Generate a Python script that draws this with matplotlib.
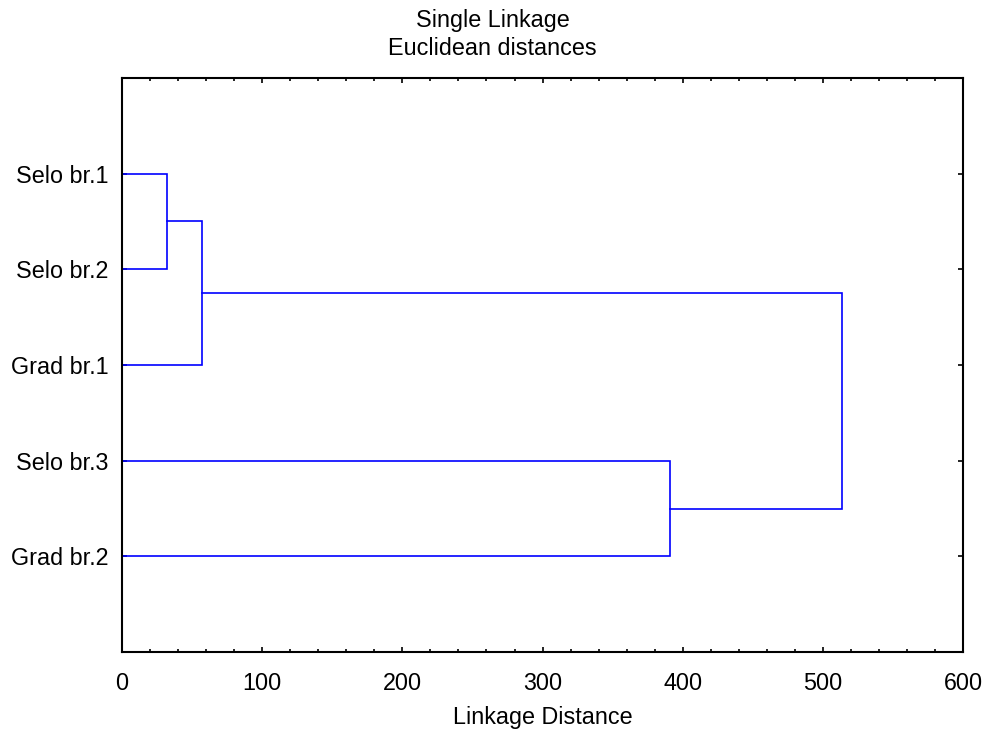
import matplotlib
matplotlib.use('Agg')
import matplotlib.pyplot as plt
from matplotlib.ticker import MultipleLocator

plt.rcParams['font.family'] = ['Liberation Sans', 'DejaVu Sans']

# leaves, top to bottom
leaves = ['Selo br.1', 'Selo br.2', 'Grad br.1', 'Selo br.3', 'Grad br.2']
# merges: (left node, right node, linkage distance); nodes 5.. are clusters
merges = [(0, 1, 32.0),
          (5, 2, 57.0),
          (3, 4, 391.0),
          (6, 7, 514.0)]

fs = 16.8
fig = plt.figure(figsize=(9.85, 7.3), dpi=100)
ax = fig.add_axes([0.1239, 0.1068, 0.8538, 0.7864])

n = len(leaves)
ypos = {i: n - i for i in range(n)}
xpos = {i: 0.0 for i in range(n)}
for k, (a, b, h) in enumerate(merges):
    ax.plot([xpos[a], h, h, xpos[b]], [ypos[a], ypos[a], ypos[b], ypos[b]],
            color='#0000ff', lw=1.2, solid_joinstyle='miter')
    ypos[n + k] = (ypos[a] + ypos[b]) / 2.0
    xpos[n + k] = h

ax.set_xlim(0, 600)
ax.set_ylim(0, n + 1)
ax.set_yticks([n - i for i in range(n)])
ax.set_yticklabels(leaves)
ax.xaxis.set_major_locator(MultipleLocator(100))
ax.xaxis.set_minor_locator(MultipleLocator(20))
ax.tick_params(which='both', direction='in', top=True, right=True, labelsize=fs)
ax.tick_params(which='major', length=3.5, width=1.2)
ax.tick_params(which='minor', length=2, width=1.2)
ax.tick_params(axis='x', pad=14.5)
ax.tick_params(axis='y', pad=9.5)
for s in ax.spines.values():
    s.set_linewidth(1.5)

ax.set_xlabel('Linkage Distance', fontsize=fs, labelpad=7.5)
# title is centred on the figure, not on the axes
ax.set_title('Single Linkage\nEuclidean distances', fontsize=fs, pad=16.5,
             linespacing=1.27, x=(0.5 - 0.1239) / 0.8538)

fig.savefig('out.png', dpi=100)
